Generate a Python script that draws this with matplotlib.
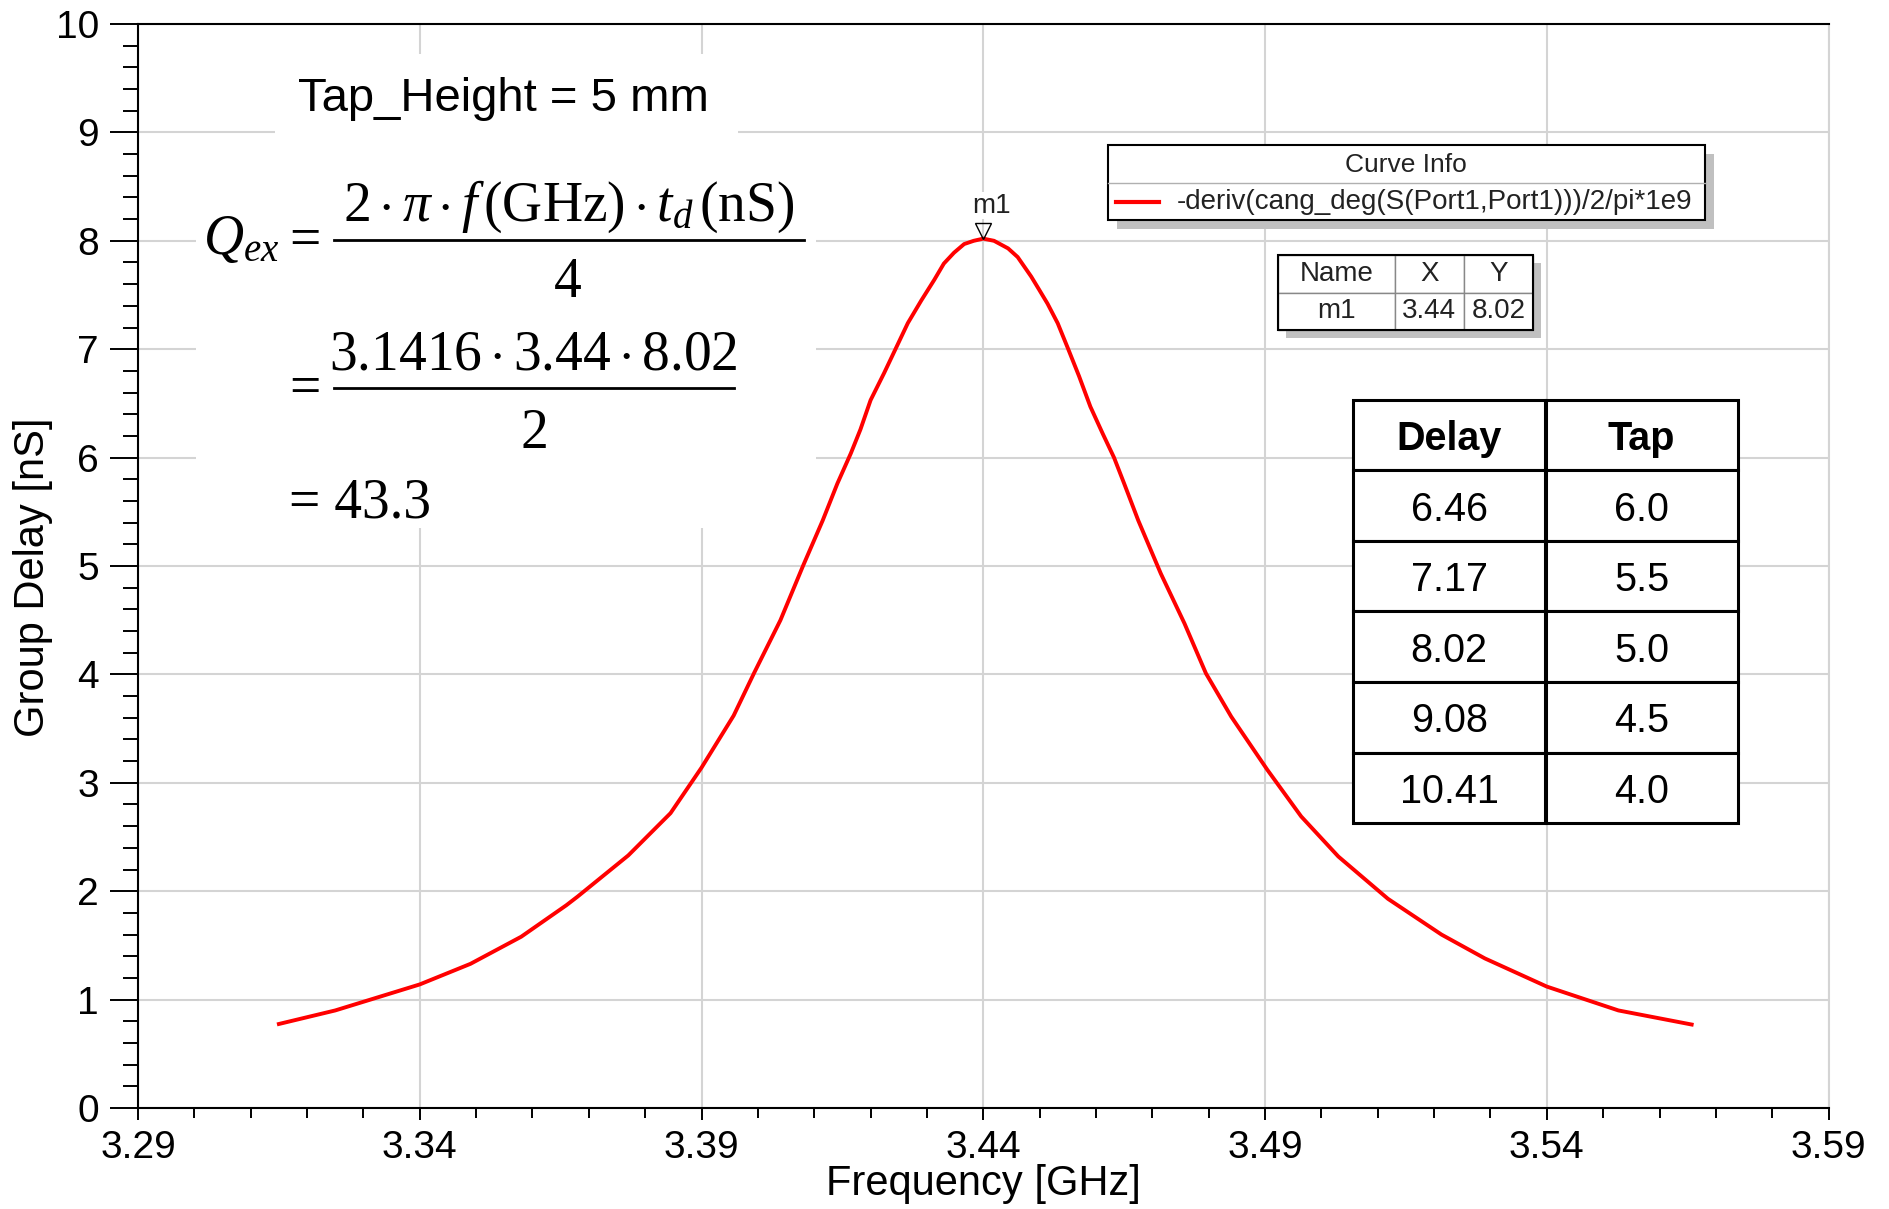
import numpy as np
import matplotlib
matplotlib.use('Agg')
import matplotlib.pyplot as plt
import matplotlib.transforms as mtransforms
from matplotlib.patches import Rectangle
from matplotlib.lines import Line2D
from matplotlib.ticker import FixedLocator

# group delay of the tapped resonator, read from the S11 phase slope
freq_ghz = [3.315, 3.325, 3.340, 3.349, 3.358, 3.366, 3.368, 3.377, 3.3845,
            3.390, 3.3957, 3.3993, 3.404, 3.408, 3.4115, 3.4141, 3.4165,
            3.4182, 3.420, 3.4224, 3.4245, 3.4266, 3.429, 3.4313, 3.433,
            3.4348, 3.4366, 3.4383, 3.440, 3.4419, 3.4444, 3.4461, 3.4485,
            3.4499, 3.4514, 3.4532, 3.455, 3.457, 3.459, 3.4612, 3.4632,
            3.465, 3.4675, 3.4715, 3.4757, 3.4795, 3.484, 3.4904, 3.4964,
            3.503, 3.5118, 3.5213, 3.529, 3.540, 3.5527, 3.5657]
group_delay_ns = [0.775, 0.90, 1.14, 1.33, 1.58, 1.87, 1.95, 2.33, 2.72,
                  3.14, 3.62, 4.01, 4.50, 5.00, 5.42, 5.76, 6.04,
                  6.26, 6.53, 6.78, 7.01, 7.24, 7.45, 7.64, 7.79,
                  7.89, 7.97, 8.00, 8.02, 8.00, 7.93, 7.85, 7.67,
                  7.55, 7.42, 7.24, 7.01, 6.75, 6.47, 6.22, 6.00,
                  5.76, 5.42, 4.93, 4.47, 4.01, 3.61, 3.12, 2.69,
                  2.32, 1.93, 1.60, 1.38, 1.12, 0.90, 0.77]

# delay vs tap height sweep
tap_delay_ns = [6.46, 7.17, 8.02, 9.08, 10.41]
tap_height_mm = [6.0, 5.5, 5.0, 4.5, 4.0]
tap_height = 5

curve_name = '-deriv(cang_deg(S(Port1,Port1)))/2/pi*1e9'
x_ticks = [3.29, 3.34, 3.39, 3.44, 3.49, 3.54, 3.59]
y_ticks = list(range(0, 11))

W, H = 1890, 1209
AX_L, AX_R, AX_T, AX_B = 138, 1828.6, 24, 1108

plt.rcParams['font.family'] = 'Liberation Sans'
plt.rcParams['mathtext.fontset'] = 'custom'
plt.rcParams['mathtext.rm'] = 'Liberation Serif'
plt.rcParams['mathtext.it'] = 'Liberation Serif:italic'
plt.rcParams['mathtext.cal'] = 'Liberation Serif:italic'

fig = plt.figure(figsize=(W / 100, H / 100), dpi=100)
ax = fig.add_axes([AX_L / W, 1 - AX_B / H, (AX_R - AX_L) / W, (AX_B - AX_T) / H])


def pos(x, y):
    # pixel position on the page -> axes fraction
    return (x - AX_L) / (AX_R - AX_L), (AX_B - y) / (AX_B - AX_T)


def box(x0, y0, x1, y1, **kw):
    a, b = pos(x0, y1)
    c, d = pos(x1, y0)
    r = Rectangle((a, b), c - a, d - b, transform=ax.transAxes, clip_on=False, **kw)
    ax.add_patch(r)
    return r


def hline(x0, x1, y, **kw):
    a, b = pos(x0, y)
    c, _ = pos(x1, y)
    ax.add_line(Line2D([a, c], [b, b], transform=ax.transAxes, clip_on=False, **kw))


def label(x, y, s, **kw):
    a, b = pos(x, y)
    return ax.text(a, b, s, transform=ax.transAxes, clip_on=False, **kw)


ax.set_axisbelow(True)
ax.plot(freq_ghz, group_delay_ns, color='red', lw=2.8, zorder=2,
        solid_joinstyle='round')

ax.set_xlim(x_ticks[0], x_ticks[-1])
ax.set_ylim(y_ticks[0], y_ticks[-1])
ax.xaxis.set_major_locator(FixedLocator(x_ticks))
ax.xaxis.set_minor_locator(FixedLocator(np.round(np.arange(3.29, 3.5901, 0.01), 2)))
ax.yaxis.set_major_locator(FixedLocator(y_ticks))
ax.yaxis.set_minor_locator(FixedLocator(np.round(np.arange(0, 10.01, 0.2), 1)))
ax.set_xticklabels(['%.2f' % t for t in x_ticks])
ax.set_yticklabels([str(t) for t in y_ticks])
ax.tick_params(axis='both', which='both', direction='out', width=1.4, color='black',
               labelsize=28)
ax.tick_params(axis='x', which='major', length=8.6, pad=7)
ax.tick_params(axis='x', which='minor', length=7.2)
ax.tick_params(axis='y', which='major', length=20, pad=8)
ax.tick_params(axis='y', which='minor', length=10.8)
ax.grid(True, which='major', color='#d4d4d4', lw=1.5)
for s in ax.spines.values():
    s.set_linewidth(1.5)
ax.spines['right'].set_color('#d4d4d4')

ax.set_xlabel('Frequency [GHz]', fontsize=30)
ax.set_ylabel('Group Delay [nS]', fontsize=30)
ax.xaxis.set_label_coords(0.5, -0.052)
ax.yaxis.set_label_coords(-0.05, 0.49)

# marker at the delay peak
i_pk = int(np.argmax(group_delay_ns))
f_pk, td_pk = freq_ghz[i_pk], group_delay_ns[i_pk]
mk_tr = mtransforms.offset_copy(ax.transData, fig=fig, y=8, units='dots')
ax.plot([f_pk], [td_pk], marker='v', ms=12, mfc='none', mec='black', mew=1,
        transform=mk_tr, zorder=4, clip_on=False)
ax.annotate('m1', (f_pk, td_pk), xytext=(8, 33), textcoords='offset pixels',
            ha='center', va='center', fontsize=20, color='#222222',
            bbox=dict(fc='white', ec='none', pad=0.5))

# white backing behind the annotation text
box(275, 54, 738, 150, fc='white', ec='none', zorder=1)
box(196, 140, 816, 528, fc='white', ec='none', zorder=1)

label(503, 111, 'Tap_Height = %d mm' % tap_height, fontsize=34, ha='center', va='baseline')

# external Q from the group delay at resonance
q_ex = np.pi * f_pk * td_pk / 2
serif = dict(family='Liberation Serif', fontsize=40, va='baseline')
label(203, 254, r'$Q_{ex}$', ha='left', **serif)
label(289, 256, '=', ha='left', **serif)
label(569, 221, r'$2\cdot\pi\cdot f\,(\mathrm{GHz})\cdot t_d\,(\mathrm{nS})$', ha='center', **serif)
hline(334, 804, 240, color='black', lw=2, zorder=3)
label(568, 297, '4', ha='center', **serif)
label(289, 404, '=', ha='left', **serif)
label(533, 369, r'$%.4f\cdot %.2f\cdot %.2f$' % (np.pi, f_pk, td_pk), ha='center', **serif)
hline(334, 734, 388, color='black', lw=2, zorder=3)
label(534, 448, '2', ha='center', **serif)
label(289, 518, '= %.1f' % q_ex, ha='left', **serif)

# curve info legend
box(1117, 154, 1714, 229, fc='#c0c0c0', ec='none', zorder=3)
box(1108, 145, 1705, 220, fc='white', ec='black', lw=1.5, zorder=3)
hline(1108, 1705, 182.7, color='#b0b0b0', lw=1, zorder=4)
label(1406, 165, 'Curve Info', fontsize=19, ha='center', va='center', color='#222222', zorder=4)
hline(1116, 1159, 202, color='red', lw=3, zorder=4)
label(1177, 202, curve_name, fontsize=20, ha='left', va='center', color='#222222', zorder=4)

# marker readout
box(1286, 263, 1541, 338, fc='#c0c0c0', ec='none', zorder=3)
a0, b0 = pos(1278, 330)
a1, b1 = pos(1533, 255)
mtab = ax.table(cellText=[['m1', '%.2f' % f_pk, '%.2f' % td_pk]],
                colLabels=['Name', 'X', 'Y'], colWidths=[116.6, 69.2, 69.2],
                cellLoc='center', bbox=[a0, b0, a1 - a0, b1 - b0], zorder=4)
mtab.auto_set_font_size(False)
mtab.set_fontsize(20)
for cell in mtab.get_celld().values():
    cell.set_edgecolor('#888888')
    cell.set_linewidth(1)
    cell.get_text().set_color('#222222')
box(1278, 255, 1533, 330, fc='none', ec='black', lw=1.5, zorder=5)

# delay vs tap height table
a0, b0 = pos(1353, 823)
a1, b1 = pos(1738, 400)
rows = [['%.2f' % d, '%.1f' % t] for d, t in zip(tap_delay_ns, tap_height_mm)]
dtab = ax.table(cellText=rows, colLabels=['Delay', 'Tap'], cellLoc='center',
                bbox=[a0, b0, a1 - a0, b1 - b0], zorder=4)
dtab.auto_set_font_size(False)
dtab.set_fontsize(28.5)
for (r, c), cell in dtab.get_celld().items():
    cell.set_edgecolor('black')
    cell.set_linewidth(2.2)
    cell.get_text().set_va('center_baseline')
    if r == 0:
        cell.get_text().set_fontweight('bold')

fig.savefig('out.png', dpi=100)
